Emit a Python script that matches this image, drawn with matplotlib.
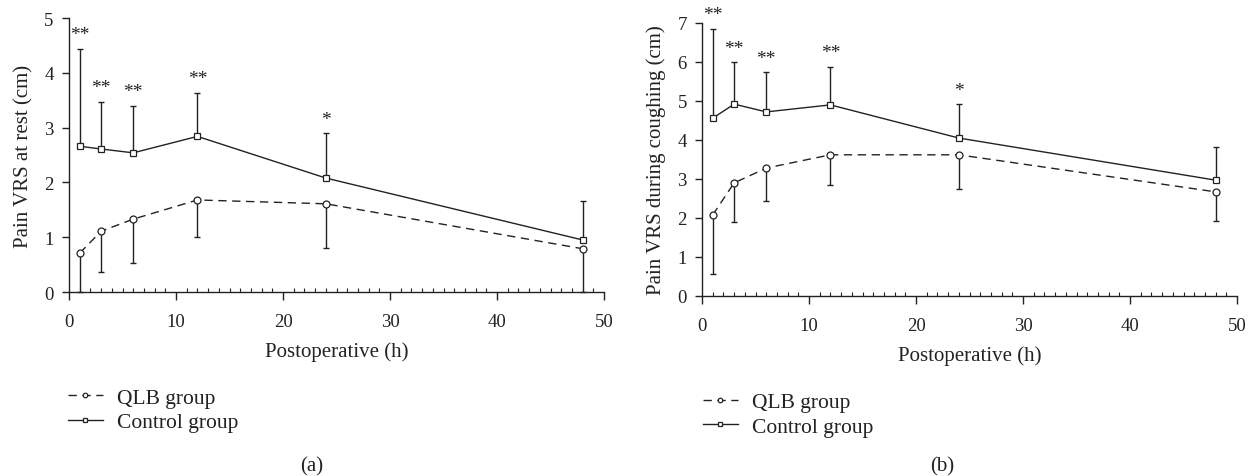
import numpy as np
import matplotlib
matplotlib.use("Agg")
import matplotlib.pyplot as plt
from matplotlib.ticker import MultipleLocator

plt.rcParams['font.family'] = ['Liberation Serif', 'DejaVu Serif']

# 术后时间点 (h)
hours = [1, 3, 6, 12, 24, 48]

# (a) 静息疼痛
rest_qlb = [0.71, 1.11, 1.33, 1.68, 1.61, 0.79]
rest_qlb_low = [0.00, 0.36, 0.53, 1.00, 0.81, 0.00]
rest_ctrl = [2.66, 2.61, 2.54, 2.84, 2.08, 0.95]
rest_ctrl_up = [4.44, 3.47, 3.40, 3.64, 2.90, 1.66]

# (b) 咳嗽时疼痛
cough_qlb = [2.08, 2.90, 3.28, 3.62, 3.62, 2.67]
cough_qlb_low = [0.56, 1.90, 2.44, 2.85, 2.74, 1.92]
cough_ctrl = [4.56, 4.92, 4.72, 4.90, 4.05, 2.97]
cough_ctrl_up = [6.85, 6.00, 5.74, 5.88, 4.92, 3.82]

stars = ['**', '**', '**', '**', '*', '']

ink = '#222222'


def panel(ax, qlb, qlb_low, ctrl, ctrl_up, ymax, ylabel):
    qlb = np.array(qlb)
    ctrl = np.array(ctrl)
    # 误差棒：QLB只画下方，对照组只画上方
    ax.errorbar(hours, qlb, yerr=[qlb - np.array(qlb_low), np.zeros(len(qlb))],
                fmt='none', ecolor=ink, elinewidth=1.0, capsize=2.5, capthick=1.0,
                clip_on=False, zorder=2)
    ax.errorbar(hours, ctrl, yerr=[np.zeros(len(ctrl)), np.array(ctrl_up) - ctrl],
                fmt='none', ecolor=ink, elinewidth=1.0, capsize=2.5, capthick=1.0,
                clip_on=False, zorder=2)
    ax.plot(hours, qlb, color=ink, lw=1.0, dashes=(6, 4), marker='o', ms=5,
            mfc='white', mec=ink, mew=0.9, label='QLB group', clip_on=False, zorder=3)
    ax.plot(hours, ctrl, color=ink, lw=1.0, marker='s', ms=5,
            mfc='white', mec=ink, mew=0.9, label='Control group', clip_on=False, zorder=3)
    for x, y, s in zip(hours, ctrl_up, stars):
        if s:
            ax.annotate(s, (x, y), xytext=(0, 10), textcoords='offset points',
                        ha='center', va='center', fontsize=14, color=ink,
                        annotation_clip=False)

    ax.set_xlim(0, 50)
    ax.set_ylim(0, ymax)
    ax.xaxis.set_major_locator(MultipleLocator(10))
    ax.xaxis.set_minor_locator(MultipleLocator(1))
    ax.yaxis.set_major_locator(MultipleLocator(1))
    for side in ['top', 'right']:
        ax.spines[side].set_visible(False)
    for side in ['left', 'bottom']:
        ax.spines[side].set_color(ink)
        ax.spines[side].set_linewidth(1.0)
    ax.tick_params(axis='x', which='major', direction='out', length=6,
                   width=1.0, color=ink, labelsize=13.5, labelcolor=ink, pad=9)
    ax.tick_params(axis='y', which='major', direction='out', length=5,
                   width=1.0, color=ink, labelsize=13.5, labelcolor=ink, pad=6)
    ax.tick_params(axis='x', which='minor', direction='in', length=3,
                   width=0.8, color=ink)
    ax.set_xlabel('Postoperative (h)', fontsize=15, color=ink, labelpad=8)
    ax.set_ylabel(ylabel, fontsize=15, color=ink, labelpad=8)


fig = plt.figure(figsize=(12.55, 4.77), dpi=100)
ax1 = fig.add_axes([0.055, 0.3857, 0.4263, 0.5744])
ax2 = fig.add_axes([0.5594, 0.3774, 0.4263, 0.5723])

panel(ax1, rest_qlb, rest_qlb_low, rest_ctrl, rest_ctrl_up, 5, 'Pain VRS at rest (cm)')
panel(ax2, cough_qlb, cough_qlb_low, cough_ctrl, cough_ctrl_up, 7,
      'Pain VRS during coughing (cm)')

for ax, pos in [(ax1, (0.047, 0.203)), (ax2, (0.553, 0.194))]:
    leg = ax.legend(loc='upper left', bbox_to_anchor=pos, bbox_transform=fig.transFigure,
                    frameon=False, fontsize=15.5, handlelength=1.63, handletextpad=0.65,
                    labelspacing=0.2, markerscale=0.65, borderaxespad=0)
    for t in leg.get_texts():
        t.set_color(ink)

fig.text(0.2486, 0.021, '(a)', ha='center', va='center', fontsize=15, color=ink)
fig.text(0.7506, 0.021, '(b)', ha='center', va='center', fontsize=15, color=ink)

fig.savefig('out.png', dpi=100)
